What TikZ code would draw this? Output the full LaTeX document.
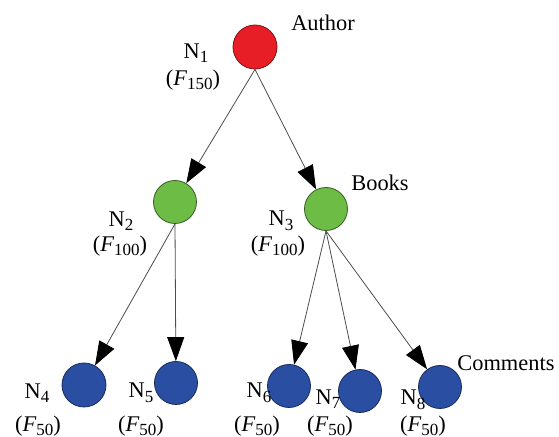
\documentclass[tikz,border=0pt]{standalone}
\usepackage{fontspec}
\setmainfont{Liberation Serif}
\usepackage{xcolor}
\usetikzlibrary{arrows.meta}

\definecolor{authorred}{RGB}{232,30,38}
\definecolor{bookgreen}{RGB}{108,188,70}
\definecolor{commentblue}{RGB}{42,78,162}

% lowered index as in N_1 and F_150
\newcommand\idx[1]{\raisebox{-0.45ex}{\fontsize{8.5}{9}\selectfont #1}}
\newcommand\fval[1]{(\textit{F}\idx{#1})}

\begin{document}
\begin{tikzpicture}[x=0.5pt, y=-0.5pt,
      vertex/.style={circle, draw, line width=0.4pt, minimum size=21.5pt, inner sep=0pt},
      rootv/.style={vertex, fill=authorred, draw=authorred!55!black},
      midv/.style={vertex, fill=bookgreen, draw=bookgreen!50!black},
      leafv/.style={vertex, fill=commentblue, draw=commentblue!55!black},
      lab/.style={inner sep=0pt, font=\fontsize{11.2}{13}\selectfont},
      arr/.style={-{Triangle[length=12pt, width=8.5pt, black]}, draw=black!70, line width=0.4pt}]
      \useasboundingbox (0,0) rectangle (559,437);
      % the tree
      \node[rootv, minimum size=22pt] (n1) at (255,47) {};
      \node[midv] (n2) at (175,202) {};
      \node[midv] (n3) at (326,209) {};
      \node[leafv, minimum size=22pt] (n4) at (84,385) {};
      \node[leafv] (n5) at (176,383) {};
      \node[leafv] (n6) at (289,386) {};
      \node[leafv] (n7) at (360,391) {};
      \node[leafv] (n8) at (440,387) {};
      \draw[arr] (n1.south) -- (n2); \draw[arr] (n1.south) -- (n3);
      \draw[arr] (n2.south) -- (n4); \draw[arr] (n2.south) -- (n5);
      \draw[arr] (n3.south) -- (n6); \draw[arr] (n3.south) -- (n7);
      \draw[arr] (n3.south) -- (n8);
      % node names and weights
      \node[lab] (n1name) at (196,53) {N\idx{1}};
      \node[lab] (n1f) at (193,80) {\fval{150}};
      \node[lab] (n2name) at (121,221) {N\idx{2}};
      \node[lab] (n2f) at (120,246) {\fval{100}};
      \node[lab] (n3name) at (281,221) {N\idx{3}};
      \node[lab] (n3f) at (278,246) {\fval{100}};
      \node[lab] (n4name) at (37,393) {N\idx{4}};
      \node[lab] (n4f) at (38,426) {\fval{50}};
      \node[lab] (n5name) at (141,393) {N\idx{5}};
      \node[lab] (n5f) at (141,426) {\fval{50}};
      \node[lab] (n6name) at (259,393) {N\idx{6}};
      \node[lab] (n6f) at (257,426) {\fval{50}};
      \node[lab] (n7name) at (328,399) {N\idx{7}};
      \node[lab] (n7f) at (330,426) {\fval{50}};
      \node[lab] (n8name) at (413,400) {N\idx{8}};
      \node[lab] (n8f) at (423,426) {\fval{50}};
      % levels
      \node[lab] (author) at (323,23) {Author};
      \node[lab] (books) at (380,183) {Books};
      \node[lab, anchor=west] (comments) at (457,363) {Comments};
    \end{tikzpicture}
\end{document}
